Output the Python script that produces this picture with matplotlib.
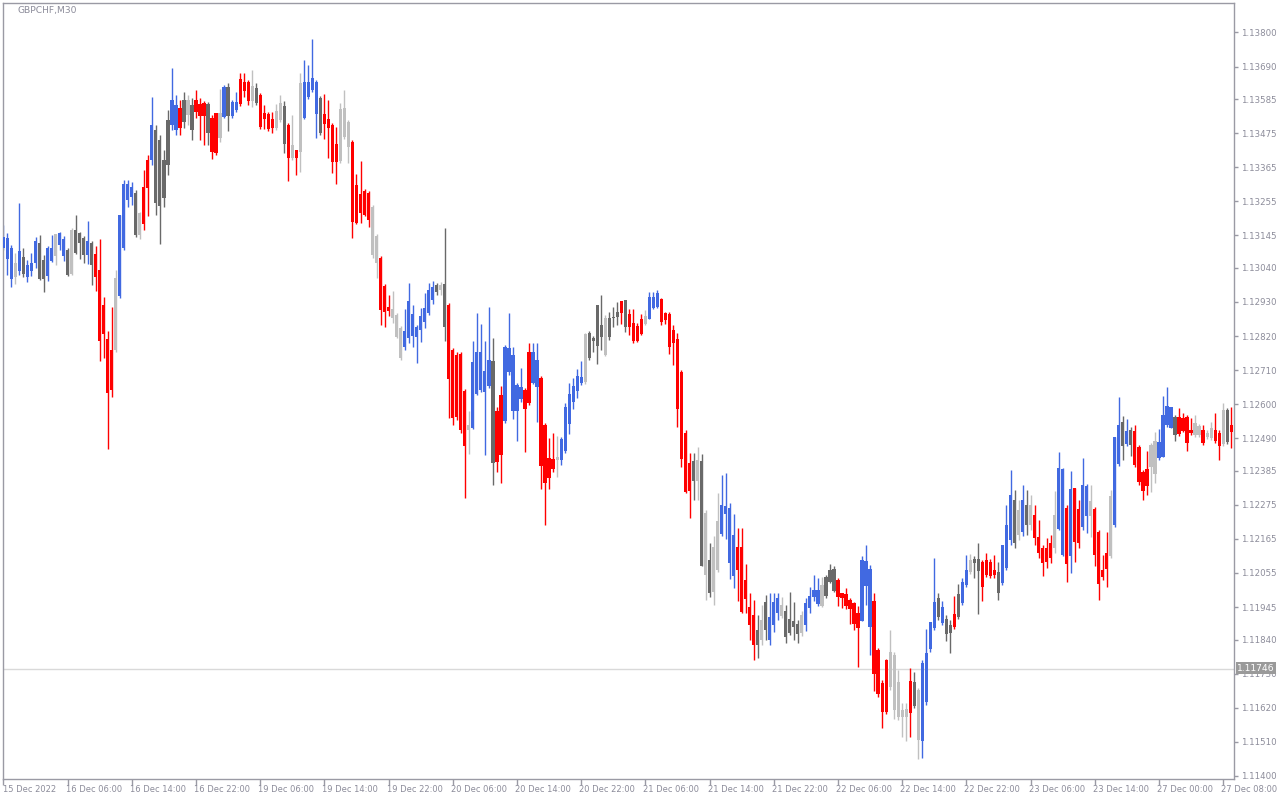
import matplotlib
matplotlib.use("Agg")
import matplotlib.pyplot as plt
import matplotlib.transforms as mtransforms

# GBPCHF M30 bars (left to right)
opens = [
    1.13104, 1.13068, 1.13004, 1.13010, 1.13030, 1.13075, 1.13010, 1.13030, 1.13055, 1.13120,
    1.13065, 1.13014, 1.13062, 1.13078, 1.13114, 1.13078, 1.13097, 1.13020, 1.13162, 1.13152,
    1.13136, 1.13081, 1.13120, 1.13085, 1.13033, 1.12920, 1.12810, 1.12775, 1.12775, 1.12949,
    1.13104, 1.13259, 1.13269, 1.13281, 1.13146, 1.13301, 1.13388, 1.13388, 1.13485, 1.13452,
    1.13388, 1.13517, 1.13501, 1.13485, 1.13556, 1.13582, 1.13533, 1.13565, 1.13582, 1.13569,
    1.13572, 1.13569, 1.13523, 1.13540, 1.13459, 1.13527, 1.13624, 1.13530, 1.13549, 1.13649,
    1.13640, 1.13640, 1.13578, 1.13620, 1.13598, 1.13540, 1.13536, 1.13520, 1.13491, 1.13517,
    1.13562, 1.13501, 1.13394, 1.13420, 1.13414, 1.13523, 1.13591, 1.13614, 1.13536, 1.13588,
    1.13536, 1.13520, 1.13501, 1.13440, 1.13385, 1.13462, 1.13430, 1.13446, 1.13307, 1.13278,
    1.13288, 1.13281, 1.13081, 1.13055, 1.13072, 1.12981, 1.12914, 1.12878, 1.12817, 1.12749,
    1.12784, 1.12814, 1.12820, 1.12817, 1.12839, 1.12865, 1.12894, 1.12936, 1.12985, 1.12968,
    1.12988, 1.12920, 1.12775, 1.12759, 1.12762, 1.12642, 1.12517, 1.12523, 1.12633, 1.12646,
    1.12639, 1.12659, 1.12739, 1.12578, 1.12630, 1.12546, 1.12704, 1.12578, 1.12578, 1.12617,
    1.12646, 1.12768, 1.12668, 1.12655, 1.12684, 1.12533, 1.12426, 1.12423, 1.12420, 1.12420,
    1.12449, 1.12536, 1.12607, 1.12642, 1.12668, 1.12671, 1.12830, 1.12814, 1.12920, 1.12855,
    1.12759, 1.12878, 1.12881, 1.12897, 1.12933, 1.12936, 1.12891, 1.12862, 1.12852, 1.12875,
    1.12859, 1.12875, 1.12910, 1.12914, 1.12939, 1.12894, 1.12891, 1.12839, 1.12810, 1.12704,
    1.12507, 1.12410, 1.12417, 1.12352, 1.12417, 1.12049, 1.12097, 1.11994, 1.12065, 1.12181,
    1.12246, 1.12087, 1.12045, 1.12139, 1.12139, 1.12033, 1.11945, 1.11920, 1.11871, 1.11839,
    1.11962, 1.11839, 1.11887, 1.11926, 1.11916, 1.11933, 1.11907, 1.11900, 1.11891, 1.11862,
    1.11887, 1.11942, 1.11978, 1.11955, 1.11949, 1.12042, 1.12065, 1.12068, 1.12033, 1.11991,
    1.11987, 1.11968, 1.11958, 1.11926, 1.11900, 1.12013, 1.11881, 1.11965, 1.11807, 1.11700,
    1.11774, 1.11687, 1.11613, 1.11590, 1.11590, 1.11590, 1.11707, 1.11703, 1.11516, 1.11513,
    1.11639, 1.11810, 1.11878, 1.11975, 1.11894, 1.11907, 1.11887, 1.11923, 1.11987, 1.11958,
    1.12016, 1.12058, 1.12100, 1.12100, 1.12091, 1.12097, 1.12091, 1.12065, 1.12058, 1.12023,
    1.12071, 1.12162, 1.12291, 1.12178, 1.12187, 1.12275, 1.12210, 1.12242, 1.12171, 1.12136,
    1.12136, 1.12152, 1.12136, 1.12197, 1.12113, 1.12265, 1.12110, 1.12329, 1.12262, 1.12204,
    1.12239, 1.12239, 1.12262, 1.12187, 1.12065, 1.12120, 1.12110, 1.12210, 1.12407, 1.12542,
    1.12471, 1.12517, 1.12513, 1.12462, 1.12381, 1.12391, 1.12397, 1.12375, 1.12426, 1.12430,
    1.12533, 1.12523, 1.12559, 1.12559, 1.12555, 1.12559, 1.12517, 1.12500, 1.12500, 1.12517,
    1.12494, 1.12491, 1.12517, 1.12507, 1.12471, 1.12581, 1.12533,
]
highs = [
    1.13178, 1.13152, 1.13114, 1.13088, 1.13249, 1.13104, 1.13065, 1.13088, 1.13139, 1.13146,
    1.13081, 1.13110, 1.13146, 1.13149, 1.13156, 1.13143, 1.13104, 1.13168, 1.13210, 1.13156,
    1.13143, 1.13191, 1.13127, 1.13110, 1.13133, 1.12946, 1.12836, 1.12914, 1.13033, 1.13210,
    1.13323, 1.13323, 1.13317, 1.13291, 1.13220, 1.13356, 1.13404, 1.13591, 1.13501, 1.13469,
    1.13420, 1.13549, 1.13685, 1.13598, 1.13582, 1.13607, 1.13598, 1.13588, 1.13614, 1.13588,
    1.13578, 1.13575, 1.13533, 1.13540, 1.13617, 1.13630, 1.13636, 1.13582, 1.13607, 1.13669,
    1.13669, 1.13646, 1.13678, 1.13636, 1.13604, 1.13565, 1.13543, 1.13543, 1.13569, 1.13598,
    1.13578, 1.13507, 1.13533, 1.13420, 1.13669, 1.13711, 1.13694, 1.13778, 1.13646, 1.13594,
    1.13601, 1.13582, 1.13507, 1.13494, 1.13572, 1.13614, 1.13517, 1.13452, 1.13343, 1.13385,
    1.13294, 1.13288, 1.13243, 1.13149, 1.13078, 1.12988, 1.12952, 1.12965, 1.12894, 1.12852,
    1.12907, 1.12991, 1.12920, 1.12855, 1.12910, 1.12959, 1.12991, 1.12997, 1.12991, 1.12994,
    1.13168, 1.12926, 1.12781, 1.12768, 1.12768, 1.12649, 1.12578, 1.12804, 1.12894, 1.12859,
    1.12804, 1.12914, 1.12814, 1.12591, 1.12659, 1.12791, 1.12894, 1.12784, 1.12668, 1.12717,
    1.12652, 1.12797, 1.12797, 1.12797, 1.12691, 1.12539, 1.12491, 1.12507, 1.12497, 1.12494,
    1.12604, 1.12668, 1.12684, 1.12713, 1.12739, 1.12830, 1.12836, 1.12820, 1.12920, 1.12952,
    1.12888, 1.12897, 1.12914, 1.12930, 1.12933, 1.12936, 1.12907, 1.12907, 1.12862, 1.12891,
    1.12904, 1.12962, 1.12962, 1.12968, 1.12943, 1.12897, 1.12897, 1.12855, 1.12830, 1.12710,
    1.12517, 1.12442, 1.12442, 1.12462, 1.12439, 1.12258, 1.12152, 1.12175, 1.12313, 1.12371,
    1.12378, 1.12281, 1.12246, 1.12200, 1.12200, 1.12084, 1.11991, 1.11968, 1.11920, 1.11952,
    1.11984, 1.11991, 1.11991, 1.11991, 1.11978, 1.11952, 1.11994, 1.11962, 1.11904, 1.11933,
    1.11975, 1.12010, 1.12049, 1.12039, 1.12042, 1.12049, 1.12084, 1.12078, 1.12039, 1.11991,
    1.12007, 1.11975, 1.11962, 1.11949, 1.12110, 1.12146, 1.12081, 1.11991, 1.11813, 1.11710,
    1.11778, 1.11871, 1.11800, 1.11742, 1.11636, 1.11636, 1.11749, 1.11736, 1.11684, 1.11774,
    1.11874, 1.11897, 1.12104, 1.11991, 1.11965, 1.11920, 1.11904, 1.11981, 1.12020, 1.12039,
    1.12113, 1.12116, 1.12110, 1.12152, 1.12097, 1.12120, 1.12100, 1.12113, 1.12091, 1.12146,
    1.12275, 1.12388, 1.12323, 1.12291, 1.12339, 1.12323, 1.12307, 1.12275, 1.12226, 1.12146,
    1.12168, 1.12178, 1.12320, 1.12446, 1.12394, 1.12275, 1.12384, 1.12329, 1.12291, 1.12426,
    1.12342, 1.12339, 1.12268, 1.12194, 1.12113, 1.12187, 1.12323, 1.12494, 1.12623, 1.12562,
    1.12552, 1.12526, 1.12533, 1.12468, 1.12388, 1.12449, 1.12475, 1.12510, 1.12520, 1.12626,
    1.12655, 1.12591, 1.12565, 1.12588, 1.12571, 1.12565, 1.12555, 1.12565, 1.12536, 1.12533,
    1.12517, 1.12542, 1.12571, 1.12517, 1.12604, 1.12588, 1.12591,
]
lows = [
    1.13097, 1.13017, 1.12978, 1.12988, 1.13017, 1.13010, 1.12994, 1.13014, 1.13039, 1.13001,
    1.12962, 1.12997, 1.13059, 1.13049, 1.13097, 1.13062, 1.13014, 1.13017, 1.13085, 1.13068,
    1.13055, 1.13052, 1.12985, 1.12965, 1.12739, 1.12749, 1.12455, 1.12623, 1.12768, 1.12943,
    1.13097, 1.13236, 1.13243, 1.13139, 1.13133, 1.13162, 1.13207, 1.13372, 1.13210, 1.13117,
    1.13236, 1.13340, 1.13485, 1.13469, 1.13469, 1.13491, 1.13501, 1.13452, 1.13523, 1.13452,
    1.13436, 1.13436, 1.13391, 1.13404, 1.13446, 1.13523, 1.13482, 1.13523, 1.13543, 1.13562,
    1.13591, 1.13565, 1.13559, 1.13565, 1.13488, 1.13488, 1.13482, 1.13475, 1.13485, 1.13511,
    1.13411, 1.13320, 1.13388, 1.13340, 1.13349, 1.13520, 1.13585, 1.13607, 1.13459, 1.13469,
    1.13456, 1.13394, 1.13346, 1.13310, 1.13378, 1.13456, 1.13378, 1.13136, 1.13181, 1.13185,
    1.13207, 1.13172, 1.13072, 1.13007, 1.12855, 1.12849, 1.12885, 1.12862, 1.12814, 1.12743,
    1.12775, 1.12797, 1.12784, 1.12733, 1.12801, 1.12846, 1.12888, 1.12923, 1.12952, 1.12952,
    1.12804, 1.12555, 1.12533, 1.12549, 1.12507, 1.12297, 1.12439, 1.12520, 1.12630, 1.12639,
    1.12436, 1.12652, 1.12339, 1.12381, 1.12346, 1.12539, 1.12694, 1.12552, 1.12481, 1.12607,
    1.12446, 1.12597, 1.12665, 1.12542, 1.12326, 1.12210, 1.12326, 1.12381, 1.12365, 1.12404,
    1.12442, 1.12504, 1.12584, 1.12620, 1.12662, 1.12665, 1.12743, 1.12768, 1.12730, 1.12775,
    1.12755, 1.12807, 1.12849, 1.12855, 1.12859, 1.12833, 1.12823, 1.12797, 1.12801, 1.12823,
    1.12855, 1.12875, 1.12907, 1.12910, 1.12855, 1.12859, 1.12762, 1.12726, 1.12526, 1.12397,
    1.12313, 1.12233, 1.12291, 1.12291, 1.12078, 1.11968, 1.11978, 1.11952, 1.12058, 1.12175,
    1.12165, 1.12036, 1.12007, 1.11965, 1.11926, 1.11926, 1.11839, 1.11774, 1.11781, 1.11823,
    1.11839, 1.11823, 1.11865, 1.11904, 1.11910, 1.11829, 1.11855, 1.11839, 1.11829, 1.11852,
    1.11868, 1.11926, 1.11965, 1.11949, 1.11945, 1.11975, 1.12023, 1.11994, 1.11949, 1.11942,
    1.11939, 1.11891, 1.11871, 1.11752, 1.11900, 1.11952, 1.11791, 1.11674, 1.11655, 1.11555,
    1.11600, 1.11678, 1.11584, 1.11581, 1.11526, 1.11513, 1.11526, 1.11620, 1.11455, 1.11458,
    1.11629, 1.11800, 1.11871, 1.11904, 1.11887, 1.11836, 1.11797, 1.11874, 1.11907, 1.11952,
    1.12010, 1.12052, 1.12039, 1.11923, 1.11965, 1.12042, 1.12039, 1.12039, 1.11968, 1.12016,
    1.12065, 1.12146, 1.12136, 1.12162, 1.12175, 1.12178, 1.12194, 1.12146, 1.12104, 1.12045,
    1.12071, 1.12087, 1.12120, 1.12194, 1.12110, 1.12026, 1.12055, 1.12091, 1.12136, 1.12194,
    1.12184, 1.12171, 1.12078, 1.11968, 1.12033, 1.12010, 1.12104, 1.12204, 1.12400, 1.12420,
    1.12465, 1.12433, 1.12397, 1.12339, 1.12291, 1.12307, 1.12316, 1.12346, 1.12420, 1.12430,
    1.12526, 1.12523, 1.12481, 1.12497, 1.12510, 1.12449, 1.12500, 1.12494, 1.12494, 1.12468,
    1.12488, 1.12484, 1.12475, 1.12420, 1.12465, 1.12471, 1.12459,
]
closes = [
    1.13139, 1.13136, 1.13104, 1.13055, 1.13094, 1.13020, 1.13049, 1.13055, 1.13127, 1.13004,
    1.13004, 1.13104, 1.13104, 1.13149, 1.13152, 1.13133, 1.13017, 1.13162, 1.13088, 1.13120,
    1.13081, 1.13127, 1.13049, 1.13010, 1.12804, 1.12826, 1.12636, 1.12646, 1.13007, 1.13210,
    1.13310, 1.13310, 1.13301, 1.13146, 1.13217, 1.13181, 1.13298, 1.13501, 1.13249, 1.13239,
    1.13265, 1.13372, 1.13582, 1.13565, 1.13491, 1.13511, 1.13582, 1.13485, 1.13543, 1.13530,
    1.13530, 1.13475, 1.13414, 1.13411, 1.13540, 1.13624, 1.13530, 1.13575, 1.13575, 1.13569,
    1.13611, 1.13578, 1.13627, 1.13572, 1.13494, 1.13520, 1.13488, 1.13491, 1.13546, 1.13572,
    1.13440, 1.13394, 1.13436, 1.13394, 1.13636, 1.13640, 1.13640, 1.13653, 1.13640, 1.13475,
    1.13504, 1.13491, 1.13381, 1.13381, 1.13553, 1.13556, 1.13511, 1.13188, 1.13185, 1.13217,
    1.13210, 1.13194, 1.13236, 1.13143, 1.12904, 1.12897, 1.12901, 1.12907, 1.12888, 1.12846,
    1.12836, 1.12933, 1.12891, 1.12849, 1.12885, 1.12910, 1.12968, 1.12978, 1.12962, 1.12985,
    1.12849, 1.12681, 1.12555, 1.12559, 1.12517, 1.12465, 1.12533, 1.12736, 1.12768, 1.12768,
    1.12707, 1.12743, 1.12410, 1.12413, 1.12436, 1.12784, 1.12781, 1.12759, 1.12662, 1.12655,
    1.12584, 1.12604, 1.12768, 1.12743, 1.12400, 1.12346, 1.12362, 1.12391, 1.12430, 1.12488,
    1.12591, 1.12633, 1.12659, 1.12691, 1.12688, 1.12826, 1.12749, 1.12804, 1.12788, 1.12817,
    1.12878, 1.12817, 1.12878, 1.12881, 1.12894, 1.12849, 1.12849, 1.12804, 1.12804, 1.12826,
    1.12885, 1.12946, 1.12946, 1.12959, 1.12865, 1.12872, 1.12784, 1.12797, 1.12584, 1.12423,
    1.12316, 1.12320, 1.12352, 1.12420, 1.12078, 1.12249, 1.11991, 1.12139, 1.12223, 1.12275,
    1.12271, 1.12265, 1.12178, 1.12065, 1.11929, 1.11971, 1.11887, 1.11823, 1.11823, 1.11904,
    1.11871, 1.11913, 1.11962, 1.11975, 1.11952, 1.11849, 1.11862, 1.11881, 1.11858, 1.11920,
    1.11958, 1.11981, 1.12000, 1.12000, 1.12016, 1.11981, 1.12026, 1.11997, 1.11978, 1.11975,
    1.11949, 1.11939, 1.11891, 1.11878, 1.12097, 1.12094, 1.12068, 1.11729, 1.11665, 1.11607,
    1.11607, 1.11800, 1.11791, 1.11703, 1.11613, 1.11616, 1.11603, 1.11626, 1.11678, 1.11765,
    1.11797, 1.11897, 1.11962, 1.11913, 1.11945, 1.11858, 1.11862, 1.11881, 1.11913, 1.12026,
    1.12065, 1.12097, 1.12087, 1.12062, 1.12010, 1.12049, 1.12045, 1.12049, 1.11991, 1.12146,
    1.12210, 1.12307, 1.12152, 1.12258, 1.12291, 1.12210, 1.12275, 1.12168, 1.12120, 1.12087,
    1.12091, 1.12104, 1.12242, 1.12394, 1.12391, 1.12084, 1.12326, 1.12155, 1.12152, 1.12339,
    1.12336, 1.12288, 1.12113, 1.12020, 1.12042, 1.12068, 1.12304, 1.12494, 1.12533, 1.12465,
    1.12513, 1.12468, 1.12404, 1.12349, 1.12320, 1.12336, 1.12468, 1.12481, 1.12478, 1.12565,
    1.12594, 1.12591, 1.12500, 1.12504, 1.12513, 1.12475, 1.12507, 1.12539, 1.12530, 1.12475,
    1.12507, 1.12523, 1.12481, 1.12465, 1.12581, 1.12478, 1.12510,
]
# candle colour class per bar: b=blue, r=red, d=dark grey, l=light grey
kinds = list(
    "bbblbdbbbd" "dbblbbdldd" "dbdrrrrrlb" "bbbdlrrbdd" "ddbbrdldrr"
    "rdrrlbdbbr" "rrldrrrrll" "drlrlbbbbd" "rrrrlllrrr" "rrllrrrlll"
    "bbbbbbbbdl" "drrrrrlbbb" "bbdrrbbbbb" "rrbbrrrrlb" "bbbbbldddd"
    "ldddrdrrrr" "lbbbrrrrrr" "rrdldldllb" "bbbrrrrrdl" "dbbblddddl"
    "bbbbldddrr" "rrrrbbbrrr" "rlllllrdlb" "bbbdbddrdb" "blddrrrrdb"
    "bbdlbdlrrr" "rrlbbrbrrb" "blrrrrlbbd" "bdrrrrllbb" "bbdrrrrllr"
    "llrrldr"
)

symbol = "GBPCHF,M30"
bid = 1.11746
price_ticks = [1.13800, 1.13690, 1.13585, 1.13475, 1.13365, 1.13255, 1.13145, 1.13040,
               1.12930, 1.12820, 1.12710, 1.12600, 1.12490, 1.12385, 1.12275, 1.12165,
               1.12055, 1.11945, 1.11840, 1.11730, 1.11620, 1.11510, 1.11400]
time_labels = ["15 Dec 2022", "16 Dec 06:00", "16 Dec 14:00", "16 Dec 22:00", "19 Dec 06:00",
               "19 Dec 14:00", "19 Dec 22:00", "20 Dec 06:00", "20 Dec 14:00", "20 Dec 22:00",
               "21 Dec 06:00", "21 Dec 14:00", "21 Dec 22:00", "22 Dec 06:00", "22 Dec 14:00",
               "22 Dec 22:00", "23 Dec 06:00", "23 Dec 14:00", "27 Dec 00:00", "27 Dec 08:00"]
bars_per_label = 16

palette = {"b": "#4169E1", "r": "#FF0000", "d": "#696969", "l": "#C0C0C0"}
text_col = "#8C8C9A"
frame_col = "#9A9AA4"

plt.rcParams["font.family"] = ["DejaVu Sans"]

fig = plt.figure(figsize=(12.8, 8), dpi=100)
ax = fig.add_axes([3 / 1280, 21 / 800, 1231 / 1280, 776 / 800])

xs = list(range(len(opens)))
cols = [palette[k] for k in kinds]

ax.axhline(bid, color="#D9D9D9", lw=1.0, zorder=0)
ax.vlines(xs, lows, highs, colors=cols, lw=1.0, zorder=2)
bottoms = [min(o, c) for o, c in zip(opens, closes)]
heights = [max(abs(c - o), 0.00003) for o, c in zip(opens, closes)]
ax.bar(xs, heights, bottom=bottoms, width=0.8, color=cols, linewidth=0, zorder=3)

ax.set_xlim(-0.1, 306.7)
ax.set_ylim(1.11390, 1.13895)

for s in ax.spines.values():
    s.set_color(frame_col)
    s.set_linewidth(1.0)

ax.yaxis.tick_right()
ax.set_yticks(price_ticks)
ax.set_yticklabels([f"{p:.5f}" for p in price_ticks])
ax.tick_params(axis="y", direction="out", length=3, width=1, color=frame_col,
               labelsize=6.2, labelcolor=text_col, pad=2)

label_pos = [i * bars_per_label for i in range(len(time_labels))]
ax.set_xticks(label_pos)
ax.set_xticklabels([])
ax.tick_params(axis="x", direction="out", length=4, width=1, color=frame_col)
for n, (pos, lab) in enumerate(zip(label_pos, time_labels)):
    dx = 0 if n == 0 else -2 / 100
    tr = mtransforms.blended_transform_factory(ax.transData, ax.transAxes) + \
        mtransforms.ScaledTranslation(dx, 0, fig.dpi_scale_trans)
    ax.text(pos, -0.0135, lab, transform=tr, ha="left", va="center",
            fontsize=6.0, color=text_col)

ax.text(15 / 1231, 1 - 7 / 776, symbol, transform=ax.transAxes, ha="left", va="center",
        fontsize=6.6, color=text_col)

# current bid marker sits on top of the nearest price label, as in the terminal
ax.annotate(f"{bid:.5f}", xy=(1, bid), xycoords=("axes fraction", "data"),
            xytext=(2, 0.5), textcoords="offset points", ha="left", va="center",
            fontsize=6.6, color="white", zorder=10,
            bbox=dict(boxstyle="square,pad=0.12", fc="#9A9A9A", ec="none"))

fig.savefig("out.png", dpi=100, facecolor="white")
